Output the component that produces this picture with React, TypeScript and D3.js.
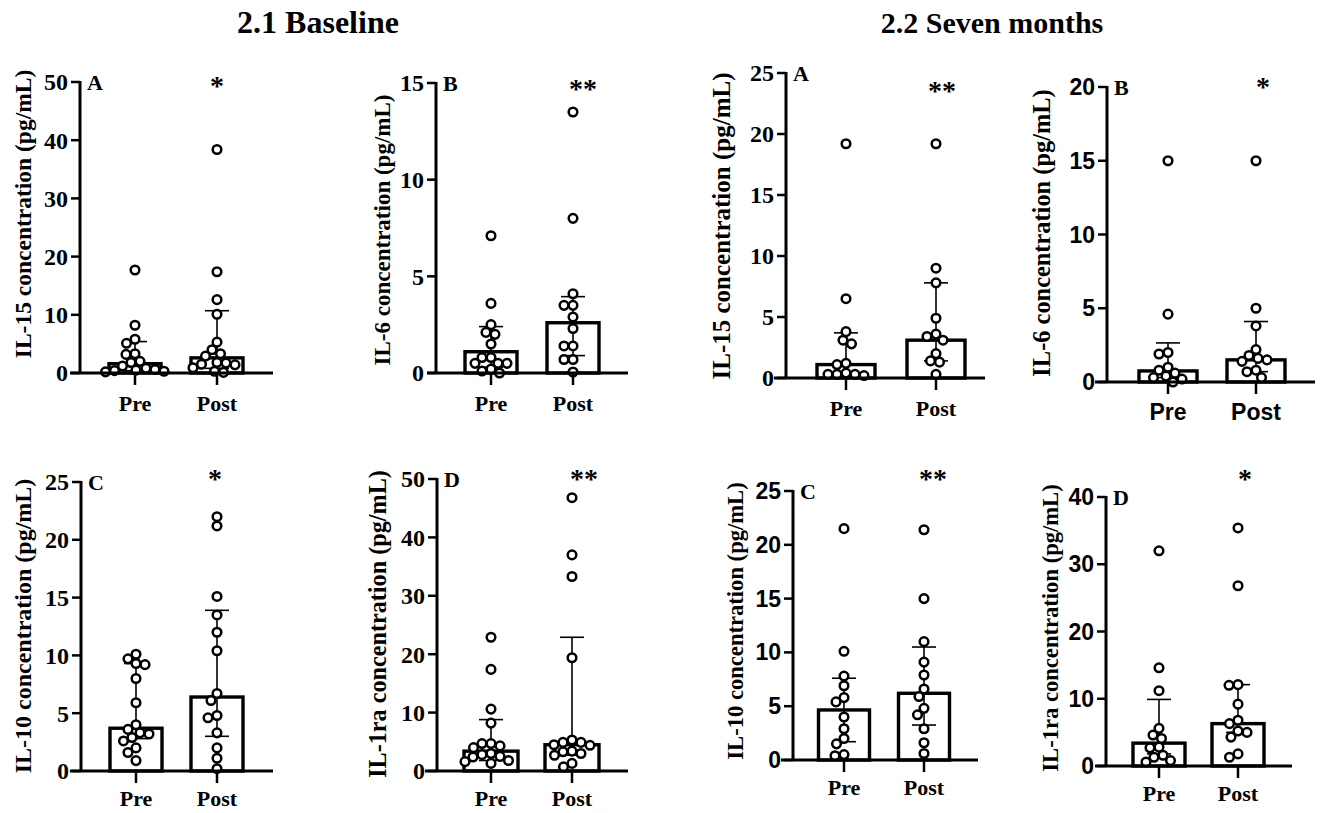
import React from 'react'
import * as d3 from 'd3'

const groups = ['Pre', 'Post']

// 2.1 Baseline
const baseIl15Pre = [17.7, 8.2, 5.8, 5.1, 3.3, 3.2, 2.0, 1.8, 1.2, 0.8, 0.6, 0.4, 0.3, 0.2, 0.5]
const baseIl15Post = [38.4, 17.4, 12.6, 10.1, 5.3, 4.0, 3.3, 2.9, 1.8, 1.7, 1.5, 1.4, 0.9, 0.3, 0.1]
const baseIl15Median = [1.6, 2.6]
const baseIl15Low = [0.4, 0.8]
const baseIl15High = [5.4, 10.7]

const baseIl6Pre = [7.1, 3.6, 2.5, 2.1, 2.0, 1.5, 0.8, 0.8, 0.5, 0.5, 0.5, 0.2, 0.1, 0.0]
const baseIl6Post = [13.5, 8.0, 4.1, 3.5, 3.5, 2.9, 2.3, 1.4, 1.4, 0.7, 0.7, 0.05]
const baseIl6Median = [1.1, 2.6]
const baseIl6Low = [0.3, 0.9]
const baseIl6High = [2.4, 3.95]

const baseIl10Pre = [10.1, 9.7, 9.3, 9.2, 8.0, 5.9, 4.0, 3.6, 3.3, 3.2, 2.9, 2.6, 2.0, 1.6, 0.9]
const baseIl10Post = [22.0, 21.2, 15.1, 13.5, 12.0, 10.4, 6.7, 6.1, 4.8, 4.6, 3.3, 2.0, 1.1, 0.2]
const baseIl10Median = [3.7, 6.4]
const baseIl10Low = [2.8, 3.0]
const baseIl10High = [9.3, 13.9]

const baseIl1raPre = [22.9, 17.4, 10.6, 8.2, 4.7, 4.7, 4.3, 4.0, 3.0, 2.8, 2.5, 2.4, 1.8, 1.6, 1.3]
const baseIl1raPost = [46.8, 37.0, 33.3, 19.4, 5.3, 4.9, 4.9, 4.5, 4.4, 3.4, 3.3, 3.0, 2.7, 1.3, 0.7]
const baseIl1raMedian = [3.4, 4.5]
const baseIl1raLow = [1.8, 2.7]
const baseIl1raHigh = [8.8, 22.9]

// 2.2 Seven months
const sevenIl15Pre = [19.2, 6.5, 3.8, 3.1, 2.8, 1.2, 1.1, 0.4, 0.3, 0.3, 0.3, 0.2]
const sevenIl15Post = [19.2, 9.0, 7.8, 4.9, 3.6, 3.4, 3.1, 2.0, 1.4, 1.3, 0.3]
const sevenIl15Median = [1.1, 3.1]
const sevenIl15Low = [0.3, 1.4]
const sevenIl15High = [3.7, 7.8]

const sevenIl6Pre = [15.0, 4.6, 2.0, 1.9, 1.0, 0.8, 0.6, 0.4, 0.3, 0.2, 0.0]
const sevenIl6Post = [15.0, 5.0, 3.8, 2.2, 1.8, 1.6, 1.5, 1.4, 0.8, 0.7, 0.3]
const sevenIl6Median = [0.75, 1.5]
const sevenIl6Low = [0.3, 0.7]
const sevenIl6High = [2.65, 4.1]

const sevenIl10Pre = [21.5, 10.1, 7.8, 6.9, 5.8, 5.4, 4.0, 2.9, 2.0, 1.5, 0.5, 0.4]
const sevenIl10Post = [21.4, 15.0, 11.0, 9.1, 7.9, 6.6, 5.9, 4.8, 4.2, 2.9, 1.6, 0.6]
const sevenIl10Median = [4.65, 6.2]
const sevenIl10Low = [1.7, 3.25]
const sevenIl10High = [7.6, 10.5]

const sevenIl1raPre = [32.0, 14.6, 11.2, 5.6, 4.6, 4.1, 2.8, 2.7, 1.6, 1.3, 0.8, 0.6]
const sevenIl1raPost = [35.4, 26.8, 12.1, 12.0, 9.2, 6.8, 6.3, 5.2, 5.0, 4.3, 1.8, 1.3]
const sevenIl1raMedian = [3.4, 6.3]
const sevenIl1raLow = [1.8, 5.0]
const sevenIl1raHigh = [9.9, 12.1]

const titles = ['2.1 Baseline', '2.2 Seven months']

const serif = '"Liberation Serif", "Times New Roman", serif'
const sans = '"Liberation Sans", Arial, sans-serif'

const panels = [
  { letter: 'A', label: 'IL-15 concentration (pg/mL)', sig: '*', yMax: 50, step: 10, pre: baseIl15Pre, post: baseIl15Post, med: baseIl15Median, lo: baseIl15Low, hi: baseIl15High,
    axisX: 80, xStart: 70, xEnd: 273, preX: 135, postX: 217, y0: 373, yTop: 82, barW: 52, labX: 31, labY: 214, labSize: 23.5, tickFont: serif, catFont: serif, catDy: 38, starY: 82, starDx: 0 },
  { letter: 'B', label: 'IL-6 concentration (pg/mL)', sig: '**', yMax: 15, step: 5, pre: baseIl6Pre, post: baseIl6Post, med: baseIl6Median, lo: baseIl6Low, hi: baseIl6High,
    axisX: 436, xStart: 427, xEnd: 628, preX: 491, postX: 573, y0: 373, yTop: 83, barW: 52, labX: 390, labY: 230, labSize: 23, tickFont: serif, catFont: serif, catDy: 38, starY: 85, starDx: 10 },
  { letter: 'A', label: 'IL-15 concentration (pg/mL)', sig: '**', yMax: 25, step: 5, pre: sevenIl15Pre, post: sevenIl15Post, med: sevenIl15Median, lo: sevenIl15Low, hi: sevenIl15High,
    axisX: 786, xStart: 774, xEnd: 985, preX: 846, postX: 936, y0: 378, yTop: 73, barW: 58, labX: 730, labY: 226, labSize: 25, tickFont: serif, catFont: serif, catDy: 38, starY: 87, starDx: 6 },
  { letter: 'B', label: 'IL-6 concentration (pg/mL)', sig: '*', yMax: 20, step: 5, pre: sevenIl6Pre, post: sevenIl6Post, med: sevenIl6Median, lo: sevenIl6Low, hi: sevenIl6High,
    axisX: 1107, xStart: 1095, xEnd: 1315, preX: 1168, postX: 1256, y0: 382, yTop: 87, barW: 58, labX: 1050, labY: 233, labSize: 24.4, tickFont: sans, catFont: sans, catDy: 38, starY: 83, starDx: 7 },
  { letter: 'C', label: 'IL-10 concentration (pg/mL)', sig: '*', yMax: 25, step: 5, pre: baseIl10Pre, post: baseIl10Post, med: baseIl10Median, lo: baseIl10Low, hi: baseIl10High,
    axisX: 81, xStart: 70, xEnd: 273, preX: 136, postX: 217, y0: 771, yTop: 482, barW: 52, labX: 31, labY: 626, labSize: 24, tickFont: serif, catFont: serif, catDy: 35, starY: 475, starDx: -2 },
  { letter: 'D', label: 'IL-1ra concentration (pg/mL)', sig: '**', yMax: 50, step: 10, pre: baseIl1raPre, post: baseIl1raPost, med: baseIl1raMedian, lo: baseIl1raLow, hi: baseIl1raHigh,
    axisX: 437, xStart: 425, xEnd: 628, preX: 491, postX: 572, y0: 771, yTop: 479, barW: 54, labX: 386, labY: 624, labSize: 24.2, tickFont: serif, catFont: serif, catDy: 35, starY: 475, starDx: 12 },
  { letter: 'C', label: 'IL-10 concentration (pg/mL)', sig: '**', yMax: 25, step: 5, pre: sevenIl10Pre, post: sevenIl10Post, med: sevenIl10Median, lo: sevenIl10Low, hi: sevenIl10High,
    axisX: 793, xStart: 781, xEnd: 978, preX: 844, postX: 924, y0: 760, yTop: 491, barW: 51, labX: 743, labY: 621, labSize: 22.6, tickFont: sans, catFont: serif, catDy: 35, starY: 475, starDx: 9 },
  { letter: 'D', label: 'IL-1ra concentration (pg/mL)', sig: '*', yMax: 40, step: 10, pre: sevenIl1raPre, post: sevenIl1raPost, med: sevenIl1raMedian, lo: sevenIl1raLow, hi: sevenIl1raHigh,
    axisX: 1106, xStart: 1095, xEnd: 1292, preX: 1159, postX: 1238, y0: 766, yTop: 497, barW: 52, labX: 1058, labY: 628, labSize: 22.6, tickFont: sans, catFont: serif, catDy: 35, starY: 475, starDx: 7 },
]

// deterministic swarm: each point goes to the free spot nearest the group centre
function swarm(values, y, cx, minDist) {
  const pts = values.map((v) => ({ v, y: y(v) })).sort((a, b) => a.y - b.y)
  const placed = []
  pts.forEach((p) => {
    let off = 0
    for (let k = 0; k <= 120; k++) {
      const cands = k === 0 ? [0] : [-k * 0.5, k * 0.5]
      const ok = cands.find((c) =>
        placed.every((q) => (q.x - (cx + c)) ** 2 + (q.y - p.y) ** 2 >= minDist * minDist)
      )
      if (ok !== undefined) {
        off = ok
        break
      }
    }
    placed.push({ x: cx + off, y: p.y, v: p.v })
  })
  return placed
}

function Panel({ p }) {
  const y = d3.scaleLinear().domain([0, p.yMax]).range([p.y0, p.yTop])
  const x = d3.scalePoint().domain(groups).range([p.preX, p.postX])
  const ticks = d3.range(0, p.yMax + p.step / 2, p.step)
  const series = [p.pre, p.post]
  const capW = 24

  return (
    <g>
      {groups.map((g, i) => (
        <rect
          key={'bar-' + g}
          x={x(g) - p.barW / 2}
          y={y(p.med[i])}
          width={p.barW}
          height={p.y0 - y(p.med[i])}
          fill="white"
          stroke="black"
          strokeWidth={3.4}
        />
      ))}
      {groups.map((g, i) => (
        <g key={'err-' + g} stroke="black" strokeWidth={1.6}>
          <line x1={x(g)} x2={x(g)} y1={y(p.lo[i])} y2={y(p.hi[i])} />
          <line x1={x(g) - capW / 2} x2={x(g) + capW / 2} y1={y(p.hi[i])} y2={y(p.hi[i])} />
          <line x1={x(g) - capW / 2} x2={x(g) + capW / 2} y1={y(p.lo[i])} y2={y(p.lo[i])} />
        </g>
      ))}
      {groups.map((g, i) =>
        swarm(series[i], y, x(g), 9).map((d, j) => (
          <circle key={g + '-' + j} cx={d.x} cy={d.y} r={4.3} fill="white" stroke="black" strokeWidth={2.5} />
        ))
      )}
      {/* axes */}
      <line x1={p.axisX} x2={p.axisX} y1={p.y0} y2={p.yTop - 1} stroke="black" strokeWidth={3} />
      <line x1={p.xStart} x2={p.xEnd} y1={p.y0} y2={p.y0} stroke="black" strokeWidth={3} />
      {ticks.map((t) => (
        <g key={'t' + t}>
          <line x1={p.axisX - 9} x2={p.axisX} y1={y(t)} y2={y(t)} stroke="black" strokeWidth={2.5} />
          <text
            x={p.axisX - 12}
            y={y(t)}
            dy="0.35em"
            textAnchor="end"
            fontFamily={p.tickFont}
            fontWeight="bold"
            fontSize={p.tickFont === sans ? 23 : 24}
          >
            {t}
          </text>
        </g>
      ))}
      {groups.map((g) => (
        <g key={'c' + g}>
          <line x1={x(g)} x2={x(g)} y1={p.y0} y2={p.y0 + 12} stroke="black" strokeWidth={2.5} />
          <text
            x={x(g)}
            y={p.y0 + p.catDy}
            textAnchor="middle"
            fontFamily={p.catFont}
            fontWeight="bold"
            fontSize={p.catFont === sans ? 23 : 22}
          >
            {g}
          </text>
        </g>
      ))}
      <text x={p.axisX + 7} y={p.yTop + 8} fontFamily={serif} fontWeight="bold" fontSize={22}>
        {p.letter}
      </text>
      <text
        x={x('Post') + p.starDx}
        y={p.starY + 13}
        textAnchor="middle"
        fontFamily={serif}
        fontWeight="bold"
        fontSize={28}
      >
        {p.sig}
      </text>
      <text
        transform={`translate(${p.labX},${p.labY}) rotate(-90)`}
        textAnchor="middle"
        fontFamily={serif}
        fontWeight="bold"
        fontSize={p.labSize}
      >
        {p.label}
      </text>
    </g>
  )
}

export default function App() {
  return (
    <svg
      width={1320}
      height={813}
      style={{ position: 'absolute', left: 0, top: 0, background: 'white' }}
    >
      <rect width={1320} height={813} fill="white" />
      <text x={318} y={33} textAnchor="middle" fontFamily={serif} fontWeight="bold" fontSize={32}>
        {titles[0]}
      </text>
      <text x={992} y={33} textAnchor="middle" fontFamily={serif} fontWeight="bold" fontSize={30}>
        {titles[1]}
      </text>
      {panels.map((p, i) => (
        <Panel key={i} p={p} />
      ))}
    </svg>
  )
}
